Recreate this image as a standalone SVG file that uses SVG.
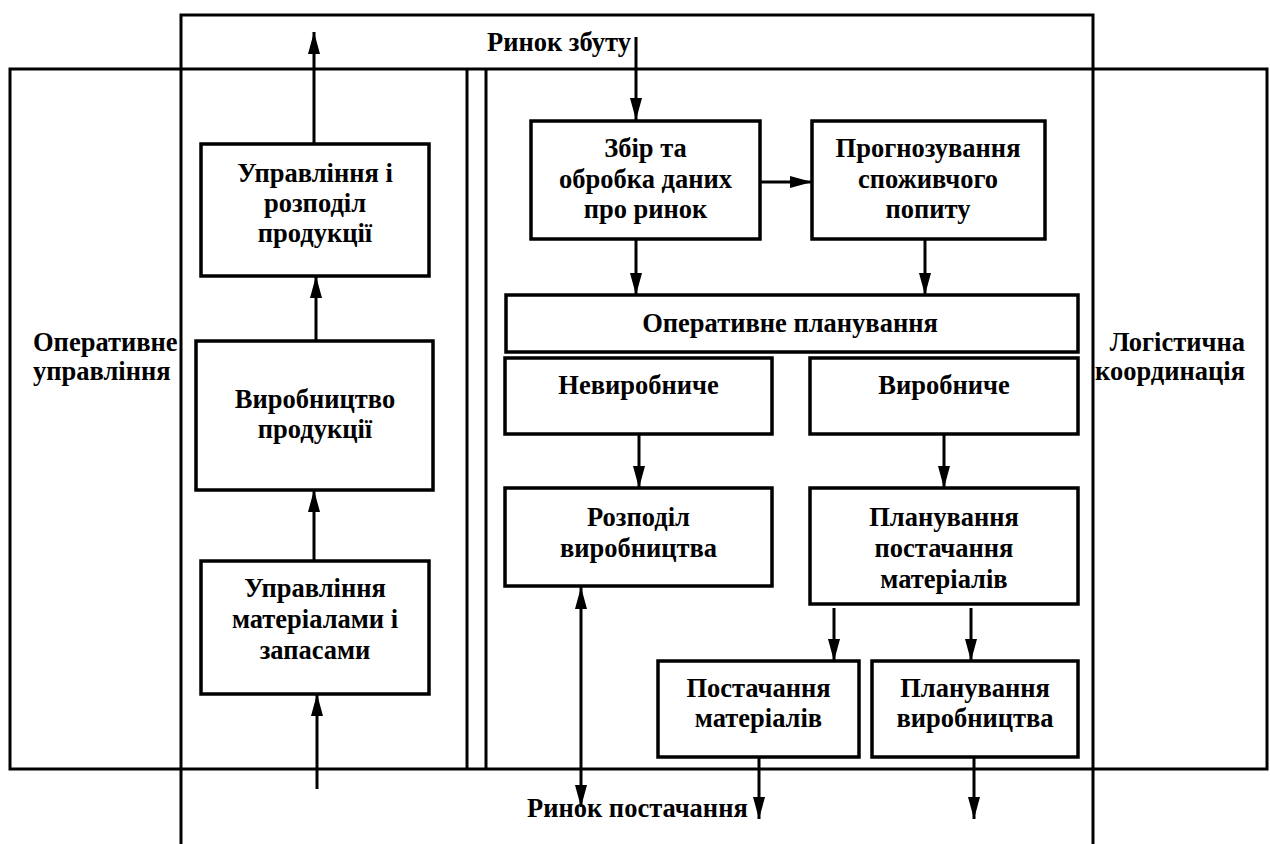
<svg xmlns="http://www.w3.org/2000/svg" width="1270" height="844" viewBox="0 0 1270 844">
<defs>
<marker id="ah" markerUnits="userSpaceOnUse" markerWidth="22" markerHeight="12" refX="22" refY="6" orient="auto-start-reverse">
<path d="M0,0 L22,6 L0,12 z" fill="#000"/>
</marker>
<style>
.frame{fill:none;stroke:#000;stroke-width:3}
.box{fill:#fff;stroke:#000;stroke-width:3.5}
.t{font-family:"Liberation Serif","Times New Roman",serif;font-weight:bold;font-size:26.5px;fill:#000;text-anchor:middle}
.c{fill:none;stroke:#000;stroke-width:3}
.a{marker-end:url(#ah)}
.ab{marker-start:url(#ah);marker-end:url(#ah)}
</style>
</defs>
<rect width="1270" height="844" fill="#fff"/>
<g id="frames">
<rect class="frame" x="10" y="69" width="1257" height="700"/>
<path class="frame" d="M181,844 V15 H1093 V844"/>
<path class="frame" d="M467,69 V769 M486,69 V769"/>
</g>
<g id="labels">
<text class="t" x="487" y="51" style="text-anchor:start">Ринок збуту</text>
<text class="t" x="33" y="351" style="text-anchor:start">Оперативне</text>
<text class="t" x="33" y="380" style="text-anchor:start">управління</text>
<text class="t" x="1245" y="351" style="text-anchor:end">Логістична</text>
<text class="t" x="1245" y="380" style="text-anchor:end">координація</text>
<text class="t" x="527" y="817" style="text-anchor:start">Ринок постачання</text>
</g>
<g id="n-upr-rozp">
<rect class="box" x="201" y="144" width="228" height="132"/>
<text class="t" x="315" y="182">Управління і</text>
<text class="t" x="315" y="212">розподіл</text>
<text class="t" x="315" y="242">продукції</text>
</g>
<g id="n-vyrobn">
<rect class="box" x="196" y="341" width="237" height="149"/>
<text class="t" x="315" y="408">Виробництво</text>
<text class="t" x="315" y="438">продукції</text>
</g>
<g id="n-upr-mat">
<rect class="box" x="201" y="561" width="228" height="133"/>
<text class="t" x="315" y="597">Управління</text>
<text class="t" x="315" y="628">матеріалами і</text>
<text class="t" x="315" y="659">запасами</text>
</g>
<g id="n-zbir">
<rect class="box" x="531" y="121" width="229" height="118"/>
<text class="t" x="645.5" y="157">Збір та</text>
<text class="t" x="645.5" y="188">обробка даних</text>
<text class="t" x="645.5" y="218">про ринок</text>
</g>
<g id="n-prohn">
<rect class="box" x="812" y="121" width="233" height="118"/>
<text class="t" x="928" y="157">Прогнозування</text>
<text class="t" x="928" y="188">споживчого</text>
<text class="t" x="928" y="218">попиту</text>
</g>
<g id="n-oper-plan">
<rect class="box" x="506" y="295" width="572" height="57"/>
<text class="t" x="790" y="332">Оперативне планування</text>
</g>
<g id="n-nevyr">
<rect class="box" x="505" y="358" width="267" height="76"/>
<text class="t" x="638.5" y="394">Невиробниче</text>
</g>
<g id="n-vyr">
<rect class="box" x="810" y="358" width="268" height="76"/>
<text class="t" x="944" y="394">Виробниче</text>
</g>
<g id="n-rozp-vyr">
<rect class="box" x="505" y="488" width="267" height="98"/>
<text class="t" x="638.5" y="526">Розподіл</text>
<text class="t" x="638.5" y="557">виробництва</text>
</g>
<g id="n-plan-post">
<rect class="box" x="810" y="488" width="268" height="116"/>
<text class="t" x="944" y="526">Планування</text>
<text class="t" x="944" y="557">постачання</text>
<text class="t" x="944" y="588">матеріалів</text>
</g>
<g id="n-post-mat">
<rect class="box" x="658" y="661" width="201" height="96"/>
<text class="t" x="758.5" y="697">Постачання</text>
<text class="t" x="758.5" y="727">матеріалів</text>
</g>
<g id="n-plan-vyr">
<rect class="box" x="872" y="661" width="206" height="96"/>
<text class="t" x="975" y="697">Планування</text>
<text class="t" x="975" y="727">виробництва</text>
</g>
<g id="connectors">
<path class="c a" d="M314,144 V32"/>
<path class="c a" d="M316,341 V276"/>
<path class="c a" d="M314,561 V490"/>
<path class="c a" d="M317,789 V694"/>
<path class="c a" d="M636,37 V120"/>
<path class="c a" d="M760,182 H812"/>
<path class="c a" d="M636,239 V295"/>
<path class="c a" d="M925,239 V295"/>
<path class="c a" d="M639,434 V488"/>
<path class="c a" d="M944,434 V488"/>
<path class="c a" d="M834,608 V661"/>
<path class="c a" d="M971,608 V661"/>
<path class="c ab" d="M581,587 V807"/>
<path class="c a" d="M759,757 V819"/>
<path class="c a" d="M974,757 V819"/>
</g>
</svg>
